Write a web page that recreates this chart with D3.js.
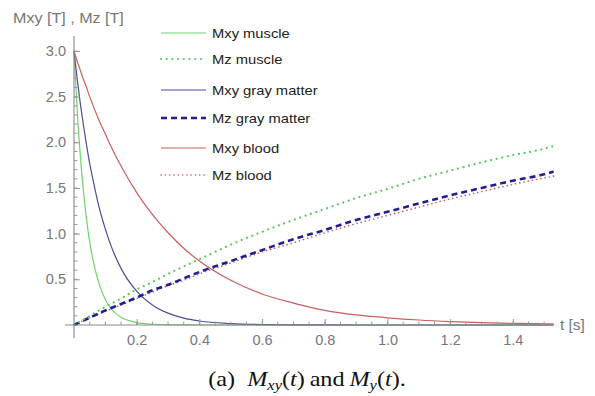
<!DOCTYPE html>
<html>
<head>
<meta charset="utf-8">
<script src="https://cdn.jsdelivr.net/npm/d3@7"></script>
<style>
  body { margin: 0; background: #fff; }
  svg { display: block; }
</style>
</head>
<body>
<script>
// chart size
var width = 595;
var height = 396;

// time samples (s)
var tDecay = [0, 0.01, 0.02, 0.03, 0.04, 0.05, 0.06, 0.08, 0.10, 0.12, 0.15, 0.2, 0.25, 0.3, 0.35, 0.4,
  0.5, 0.6, 0.7, 0.8, 0.9, 1.0, 1.1, 1.2, 1.3, 1.4, 1.5, 1.53];
var tGrow = [0, 0.05, 0.1, 0.15, 0.2, 0.25, 0.3, 0.35, 0.4, 0.5, 0.6, 0.7, 0.8, 0.9, 1.0, 1.1, 1.2,
  1.3, 1.4, 1.5, 1.53];

// Mxy (transverse) values
var mxyMuscle = [3, 2.36, 1.86, 1.47, 1.16, 0.91, 0.72, 0.45, 0.28, 0.17, 0.084, 0.026, 0.008, 0.002, 0.001, 0,
  0, 0, 0, 0, 0, 0, 0, 0, 0, 0, 0, 0];
var mxyGray = [3, 2.70, 2.43, 2.19, 1.97, 1.77, 1.60, 1.29, 1.05, 0.85, 0.62, 0.37, 0.22, 0.13, 0.075, 0.044,
  0.016, 0.005, 0.002, 0.001, 0, 0, 0, 0, 0, 0, 0, 0];
var mxyBlood = [3, 2.89, 2.79, 2.69, 2.60, 2.50, 2.41, 2.24, 2.09, 1.94, 1.74, 1.45, 1.21, 1.01, 0.84, 0.70,
  0.49, 0.34, 0.24, 0.16, 0.11, 0.079, 0.055, 0.038, 0.026, 0.018, 0.013, 0.012];

// Mz (longitudinal) values
var mzMuscle = [0, 0.10, 0.20, 0.29, 0.39, 0.47, 0.56, 0.64, 0.72, 0.88, 1.02, 1.15, 1.27, 1.39, 1.49, 1.60,
  1.69, 1.78, 1.86, 1.93, 1.96];
var mzGray = [0, 0.08, 0.16, 0.23, 0.30, 0.38, 0.44, 0.51, 0.58, 0.70, 0.82, 0.94, 1.04, 1.15, 1.24, 1.33,
  1.42, 1.50, 1.58, 1.65, 1.68];
var mzBlood = [0, 0.08, 0.15, 0.22, 0.29, 0.36, 0.43, 0.49, 0.56, 0.68, 0.80, 0.90, 1.01, 1.11, 1.20, 1.29,
  1.38, 1.46, 1.54, 1.61, 1.63];

var seriesNames = ["Mxy muscle", "Mz muscle", "Mxy gray matter", "Mz gray matter", "Mxy blood", "Mz blood"];
var xTicks = [0.2, 0.4, 0.6, 0.8, 1.0, 1.2, 1.4];
var yTicks = [0.5, 1.0, 1.5, 2.0, 2.5, 3.0];

var series = [
  { name: seriesNames[0], t: tDecay, v: mxyMuscle, color: "#6fd36f", w: 1.2, dash: null },
  { name: seriesNames[1], t: tGrow, v: mzMuscle, color: "#5ccc5c", w: 2.2, dash: "0.1,5.6", cap: "round" },
  { name: seriesNames[2], t: tDecay, v: mxyGray, color: "#4d4d99", w: 1.2, dash: null },
  { name: seriesNames[3], t: tGrow, v: mzGray, color: "#1f1f8f", w: 2.6, dash: "6,4" },
  { name: seriesNames[4], t: tDecay, v: mxyBlood, color: "#c8605a", w: 1.2, dash: null },
  { name: seriesNames[5], t: tGrow, v: mzBlood, color: "#c8605a", w: 1.6, dash: "0.1,4.2", cap: "round" }
];

var svg = d3.select("body").append("svg")
  .attr("width", width)
  .attr("height", height);

var x = d3.scaleLinear().domain([0, 1.53]).range([74, 553.6]);
var y = d3.scaleLinear().domain([0, 3]).range([325, 51]);

var axisColor = "#9a9a9a";
var labelColor = "#777";

// curves first, axes on top like mathematica
var line = d3.line()
  .x(function(d) { return x(d[0]); })
  .y(function(d) { return y(d[1]); })
  .curve(d3.curveMonotoneX);

// draw the Mz ones under, blood dots under gray dashes
var drawOrder = [0, 2, 4, 5, 3, 1];
drawOrder.forEach(function(i) {
  var s = series[i];
  var pts = s.t.map(function(t, k) { return [t, s.v[k]]; });
  svg.append("path")
    .datum(pts)
    .attr("fill", "none")
    .attr("stroke", s.color)
    .attr("stroke-width", s.w)
    .attr("stroke-dasharray", s.dash)
    .attr("stroke-linecap", s.cap || "butt")
    .attr("d", line);
});

// axes
var xAxis = d3.axisBottom(x)
  .tickValues(xTicks)
  .tickSizeInner(-6)
  .tickSizeOuter(0)
  .tickPadding(10)
  .tickFormat(d3.format(".1f"));

var xMinor = d3.range(0.05, 1.53, 0.05);
var gx = svg.append("g").attr("transform", "translate(0," + y(0) + ")");
gx.selectAll("line.minor").data(xMinor).enter().append("line")
  .attr("x1", function(d) { return x(d); })
  .attr("x2", function(d) { return x(d); })
  .attr("y1", 0).attr("y2", -3.5)
  .attr("stroke", axisColor);
gx.call(xAxis);
gx.select(".domain").remove();
gx.append("line")
  .attr("x1", 65).attr("x2", x(1.53))
  .attr("stroke", "#8a8a8a").attr("stroke-width", 1.1);

var yMinor = d3.range(0.1, 3.05, 0.1);
var gy = svg.append("g").attr("transform", "translate(" + x(0) + ",0)");
gy.selectAll("line.minor").data(yMinor).enter().append("line")
  .attr("y1", function(d) { return y(d); })
  .attr("y2", function(d) { return y(d); })
  .attr("x1", 0).attr("x2", 3.5)
  .attr("stroke", axisColor);
gy.call(d3.axisLeft(y).tickValues(yTicks).tickSizeInner(-6).tickSizeOuter(0).tickPadding(8)
  .tickFormat(d3.format(".1f")));
gy.select(".domain").remove();
gy.append("line")
  .attr("y1", 36).attr("y2", 338)
  .attr("stroke", "#8a8a8a").attr("stroke-width", 1.1);

svg.selectAll(".tick line").attr("stroke", axisColor);
svg.selectAll(".tick text")
  .attr("fill", labelColor)
  .style("font-family", "Liberation Sans, Arial, sans-serif")
  .style("font-size", "14.5px");

// axis labels
svg.append("text")
  .attr("transform", "translate(13,23) scale(1.15,1)")
  .attr("fill", labelColor)
  .style("font-family", "Liberation Sans, Arial, sans-serif")
  .style("font-size", "14px")
  .text("Mxy [T] , Mz [T]");

svg.append("text")
  .attr("transform", "translate(560,330) scale(1.1,1)")
  .attr("fill", labelColor)
  .style("font-family", "Liberation Sans, Arial, sans-serif")
  .style("font-size", "14px")
  .text("t [s]");

// legend
var legRows = [33, 59, 90, 118, 148, 175];
var leg = svg.append("g");
series.forEach(function(s, i) {
  var g = leg.append("g").attr("transform", "translate(161," + legRows[i] + ")");
  g.append("line")
    .attr("x1", 0).attr("x2", 45)
    .attr("stroke", s.color)
    .attr("stroke-width", s.w)
    .attr("stroke-dasharray", s.dash)
    .attr("stroke-linecap", s.cap || "butt");
  g.append("text")
    .attr("transform", "translate(51,4.5) scale(1.18,1)")
    .attr("fill", "#222")
    .style("font-family", "Liberation Sans, Arial, sans-serif")
    .style("font-size", "12.5px")
    .text(s.name);
});

// caption
var cap = svg.append("text")
  .attr("transform", "translate(307,386) scale(1.1,1)")
  .attr("text-anchor", "middle")
  .attr("fill", "#111")
  .style("font-family", "Liberation Serif, DejaVu Serif, serif")
  .style("font-size", "22px");
cap.append("tspan").text("(a)\u2002");
cap.append("tspan").style("font-style", "italic").text("M");
cap.append("tspan").attr("dy", 4).style("font-style", "italic").style("font-size", "15px").text("xy");
cap.append("tspan").attr("dy", -4).text("(");
cap.append("tspan").style("font-style", "italic").text("t");
cap.append("tspan").text(")\u2009and\u2009");
cap.append("tspan").style("font-style", "italic").text("M");
cap.append("tspan").attr("dy", 4).style("font-style", "italic").style("font-size", "15px").text("y");
cap.append("tspan").attr("dy", -4).text("(");
cap.append("tspan").style("font-style", "italic").text("t");
cap.append("tspan").text(").");
</script>
</body>
</html>
